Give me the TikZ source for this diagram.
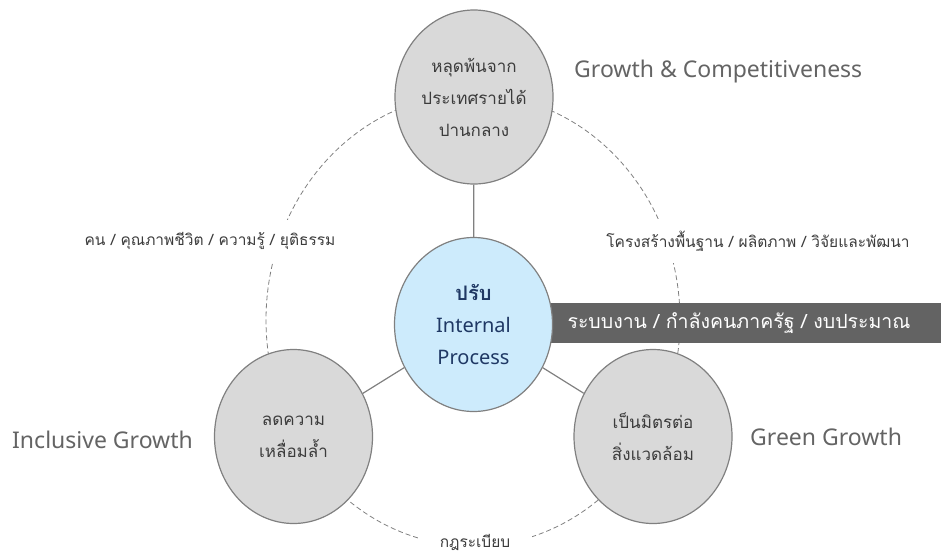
\documentclass[tikz,border=0pt]{standalone}
\usepackage{fontspec}
\setmainfont{Noto Sans}
\newfontfamily\thaif[Script=Thai]{Loma}
\usetikzlibrary{shapes.geometric}
\definecolor{circfill}{RGB}{217,217,217}
\definecolor{circline}{RGB}{128,128,128}
\definecolor{midfill}{RGB}{205,235,252}
\definecolor{midtext}{RGB}{31,56,100}
\definecolor{barfill}{RGB}{99,99,99}
\definecolor{engtext}{RGB}{100,100,100}
\definecolor{thtext}{RGB}{60,60,60}
\tikzset{
  bubble/.style={ellipse, draw=circline, line width=1.2pt, fill=circfill,
    minimum width=158pt, minimum height=174pt, inner sep=0pt, align=center,
    text=thtext, font={\thaif\fontsize{17}{32}\selectfont}},
  midbubble/.style={bubble, fill=midfill, text=midtext},
  conn/.style={draw=circline, line width=1.2pt},
  ring/.style={draw=circline, line width=0.8pt, dash pattern=on 5pt off 3pt},
  ringlabel/.style={fill=white, text=thtext, inner xsep=8pt, inner ysep=12pt,
    font={\thaif\fontsize{15.5}{18}\selectfont}},
  englabel/.style={text=engtext, inner sep=0pt, font={\fontsize{23}{26}\selectfont}},
  barbox/.style={rectangle, fill=barfill, text=white, minimum width=396pt,
    minimum height=40pt, inner sep=0pt, font={\thaif\fontsize{19.5}{22}\selectfont}}
}
\begin{document}
\begin{tikzpicture}[x=1pt,y=-1pt]
\useasboundingbox (0,0) rectangle (941,554);
% dashed ring
\draw[ring] (473,320) ellipse [x radius=207pt, y radius=226pt];
\node[ringlabel] (lleft) at (210,241) {คน / คุณภาพชีวิต / ความรู้ / ยุติธรรม};
\node[ringlabel] (lright) at (758,241) {โครงสร้างพื้นฐาน / ผลิตภาพ / วิจัยและพัฒนา};
\node[ringlabel, inner xsep=22pt, inner ysep=8pt] (lbottom) at (475,542) {กฎระเบียบ};
% bar
\node[barbox] (bar) at (743,323) {\hspace*{-8pt}ระบบงาน / กำลังคนภาครัฐ / งบประมาณ};
% circles
\node[bubble] (top) at (474,97) {หลุดพ้นจาก\\ประเทศรายได้\\ปานกลาง};
\node[midbubble] (mid) at (473.5,324.5) {{\bfseries\fontsize{20}{32}\selectfont ปรับ}\\{\rmfamily\fontsize{20}{32}\selectfont Internal}\\{\rmfamily\fontsize{20}{32}\selectfont Process}};
\node[bubble] (bl) at (293.5,436.5) {ลดความ\\เหลื่อมล้ำ};
\node[bubble] (br) at (653,436.5) {เป็นมิตรต่อ\\สิ่งแวดล้อม};
% connectors
\draw[conn] (top) -- (mid);
\draw[conn] (mid) -- (bl);
\draw[conn] (mid) -- (br);
% english labels
\node[englabel, anchor=west] (gc) at (574,72) {Growth \& Competitiveness};
\node[englabel, anchor=west] (ig) at (12,440) {Inclusive Growth};
\node[englabel, anchor=west] (gg) at (750,437) {Green Growth};
\end{tikzpicture}
\end{document}
